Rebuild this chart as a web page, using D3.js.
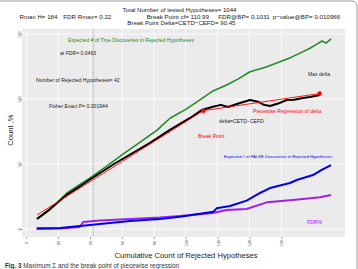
<!DOCTYPE html>
<html>
<head>
<meta charset="utf-8">
<script src="https://cdn.jsdelivr.net/npm/d3@7"></script>
<style>
  body { margin: 0; background: #fff; }
  text { font-family: "Liberation Sans", Arial, sans-serif; }
</style>
</head>
<body>
<div id="chart-holder"></div>
<script>
//****DATA****
// Expected # of true discoveries (green)
const trueX = [6.7, 15, 25.3, 32, 39.5, 50, 60, 73.4, 82, 90.1, 100, 108, 117.1, 126, 133, 140.3, 150, 159.1, 166, 172, 177.9, 182, 185.5, 188, 191.1];
const trueY = [7.7, 15, 27.5, 33, 39, 48, 57, 68.5, 76, 85.2, 92, 98.5, 106.2, 111, 115.5, 121, 124.5, 128.7, 132, 135.5, 139, 142, 144.6, 143, 146.2];
// delta = CETD - CEFD (black)
const deltaX = [6.7, 15, 25.3, 32, 39.5, 55, 77.6, 90.1, 102.7, 110, 117.1, 122, 126.5, 133, 140.3, 145.3, 149, 152.8, 158, 163.3, 168, 173.5, 178, 184.2];
const deltaY = [7.7, 15.5, 26.2, 31.5, 37.7, 50, 66.2, 76.2, 85.4, 91.5, 94.1, 95.5, 93.8, 96.5, 99.2, 97.9, 95.5, 94.6, 96.5, 99.2, 99.5, 100.8, 101.5, 103.1];
// piecewise regression of delta (red)
const pwX = [6.7, 111, 184];
const pwY = [10.8, 91, 104.2];
// Expected # of false discoveries (blue)
const falseX = [6.5, 21.1, 33.7, 46.2, 65, 83.9, 96.4, 112.1, 117.3, 119.4, 127.8, 138.2, 146.6, 152.8, 165.4, 169.6, 179.8, 185.3, 191.1];
const falseY = [0.5, 0.8, 2.3, 3.8, 6.2, 7.7, 9.5, 12.3, 13.3, 15.9, 17.7, 21.8, 27.7, 31.5, 35.4, 37.7, 41.5, 45.4, 49.2];
// FDR% (purple)
const fdrX = [6.5, 21.1, 33.5, 35.7, 46.2, 65, 83.9, 96.4, 117.1, 125.7, 138.2, 150.8, 167.3, 184.2, 191.1];
const fdrY = [0, 0.4, 1.5, 5.4, 6.5, 7.7, 8.8, 10, 12.3, 14.6, 15.4, 20.5, 22.3, 24.4, 26.2];
const xTicks = [0, 20, 40, 60, 80, 100, 120, 140, 160];
const yTicks = [0, 50, 100, 150];
const rejectedN = 42;

//****CANVAS****
const width = 358;
const height = 269;
const panel = {left: 22, right: 345, top: 29, bottom: 237};

const svg = d3.select('#chart-holder')
    .append('svg')
    .attr('width', width)
    .attr('height', height);

// figure box
svg.append('rect')
    .attr('x', -6).attr('y', 1)
    .attr('width', 363).attr('height', 300)
    .attr('rx', 5)
    .attr('fill', 'none')
    .attr('stroke', '#999')
    .attr('stroke-width', 1);

//****SCALES****
const xScale = d3.scaleLinear().domain([0, 160]).range([26.3, 281.4]);
const yScale = d3.scaleLinear().domain([0, 150]).range([229, 34]);

// panel background + grid
svg.append('rect')
    .attr('x', panel.left).attr('y', panel.top)
    .attr('width', panel.right - panel.left)
    .attr('height', panel.bottom - panel.top)
    .attr('fill', '#ebebeb');

svg.append('g')
    .selectAll('line')
    .data(xTicks)
    .enter().append('line')
    .attr('x1', d => xScale(d)).attr('x2', d => xScale(d))
    .attr('y1', panel.top).attr('y2', panel.bottom)
    .attr('stroke', '#fff').attr('stroke-width', 0.8);

svg.append('g')
    .selectAll('line')
    .data(yTicks)
    .enter().append('line')
    .attr('x1', panel.left).attr('x2', panel.right)
    .attr('y1', d => yScale(d)).attr('y2', d => yScale(d))
    .attr('stroke', '#fff').attr('stroke-width', 0.8);

// axes (ticks + rotated labels)
const xAxis = svg.append('g')
    .attr('transform', `translate(0, ${panel.bottom})`)
    .call(d3.axisBottom(xScale).tickValues(xTicks).tickSize(2).tickSizeOuter(0));
xAxis.select('.domain').remove();
xAxis.selectAll('line').attr('stroke', '#333').attr('stroke-width', 0.5);
xAxis.selectAll('text')
    .attr('transform', 'translate(1.4, 6) rotate(-90)')
    .attr('x', 0).attr('y', 0).attr('dy', 0)
    .attr('text-anchor', 'middle')
    .style('font-size', '4px')
    .attr('fill', '#4d4d4d');

const yAxis = svg.append('g')
    .attr('transform', `translate(${panel.left}, 0)`)
    .call(d3.axisLeft(yScale).tickValues(yTicks).tickSize(2).tickSizeOuter(0));
yAxis.select('.domain').remove();
yAxis.selectAll('line').attr('stroke', '#333').attr('stroke-width', 0.5);
yAxis.selectAll('text')
    .attr('transform', 'translate(-1.2, 0) rotate(-90)')
    .attr('x', 0).attr('y', 0).attr('dy', 0)
    .attr('text-anchor', 'middle')
    .style('font-size', '4px')
    .attr('fill', '#4d4d4d');

// dotted line at number of rejected hypotheses
svg.append('line')
    .attr('x1', xScale(rejectedN)).attr('x2', xScale(rejectedN))
    .attr('y1', panel.top).attr('y2', panel.bottom)
    .attr('stroke', '#555').attr('stroke-width', 0.5)
    .attr('stroke-dasharray', '0.8,0.8');

//****PLOT THE DATA****
const line = d3.line()
    .x(d => xScale(d[0]))
    .y(d => yScale(d[1]));

function drawSeries(xs, ys, color, w) {
    svg.append('path')
        .datum(d3.zip(xs, ys))
        .attr('d', line)
        .attr('fill', 'none')
        .attr('stroke', color)
        .attr('stroke-width', w)
        .attr('stroke-linejoin', 'round');
}
drawSeries(fdrX, fdrY, '#a020f0', 2);
drawSeries(falseX, falseY, '#0000ee', 2);
drawSeries(trueX, trueY, '#228b22', 1.6);
drawSeries(deltaX, deltaY, '#000', 2);
drawSeries(pwX, pwY, '#ff0000', 0.9);

// break point and max delta dots
svg.selectAll('circle.bp')
    .data(d3.zip(pwX, pwY).slice(1))
    .enter().append('circle')
    .attr('class', 'bp')
    .attr('cx', d => xScale(d[0]))
    .attr('cy', d => yScale(d[1]))
    .attr('r', 2.2)
    .attr('fill', '#ff0000');

//****TEXT****
function label(x, y, txt, size, color, anchor) {
    return svg.append('text')
        .attr('x', x).attr('y', y)
        .attr('text-anchor', anchor || 'start')
        .style('font-size', size + 'px')
        .attr('fill', color || '#000')
        .text(txt);
}

// header
label(179.5, 12, 'Total Number of tested Hypotheses= 1044', 6.1, '#1a1a1a', 'middle');
label(19.5, 18.8, 'Rmax H= 184', 6.2, '#1a1a1a');
label(63.3, 18.8, 'FDR Rmax= 0.22', 6.2, '#1a1a1a');
label(146.7, 18.8, 'Break Point cf= 110.99', 6.2, '#1a1a1a');
label(218.3, 18.8, 'FDR@BP= 0.1031', 6.2, '#1a1a1a');
label(272.7, 18.8, 'p\u2212value@BP= 0.010966', 6.2, '#1a1a1a');
label(181.4, 25.2, 'Break Point Delta=CETD\u2212CEFD= 90.45', 6.1, '#1a1a1a', 'middle');

// annotations
label(68, 41.5, 'Expected # of True Discoveries in Rejected Hypotheses', 5.1, '#228b22');
label(60, 55, 'at FDR= 0.0463', 5.1, '#1a1a1a');
label(36, 81.7, 'Number of Rejected Hypotheses= 42', 5.1, '#1a1a1a');
label(49, 107.5, 'Fisher Exact P= 0.001944', 5.1, '#1a1a1a');
label(308, 76, 'Max delta', 5.1, '#1a1a1a');
label(253, 112.7, 'Piecewise Regression of delta', 5.1, '#ff0000');
label(219, 122.5, 'delta=CETD\u2212CEFD', 5.1, '#1a1a1a');
label(198, 137.7, 'Break Point', 5.1, '#ff0000');
label(224, 157.7, 'Expected # of FALSE Discoveries in Rejected Hypotheses', 4.2, '#0000ee');
label(307, 223.5, 'FDR%', 5.1, '#a020f0');

// axis titles
label(186, 258, 'Cumulative Count of Rejected Hypotheses', 7.6, '#1a1a1a', 'middle');
svg.append('text')
    .attr('transform', 'translate(12.5, 130) rotate(-90)')
    .attr('text-anchor', 'middle')
    .style('font-size', '7.6px')
    .attr('fill', '#1a1a1a')
    .text('Count ,%');

// caption at the bottom edge
const cap = svg.append('text')
    .attr('x', 5).attr('y', 268)
    .style('font-size', '6.3px')
    .attr('fill', '#333');
cap.append('tspan').style('font-weight', 'bold').text('Fig. 3 ');
cap.append('tspan').text('Maximum \u03a3 and the break point of piecewise regression');
</script>
</body>
</html>
